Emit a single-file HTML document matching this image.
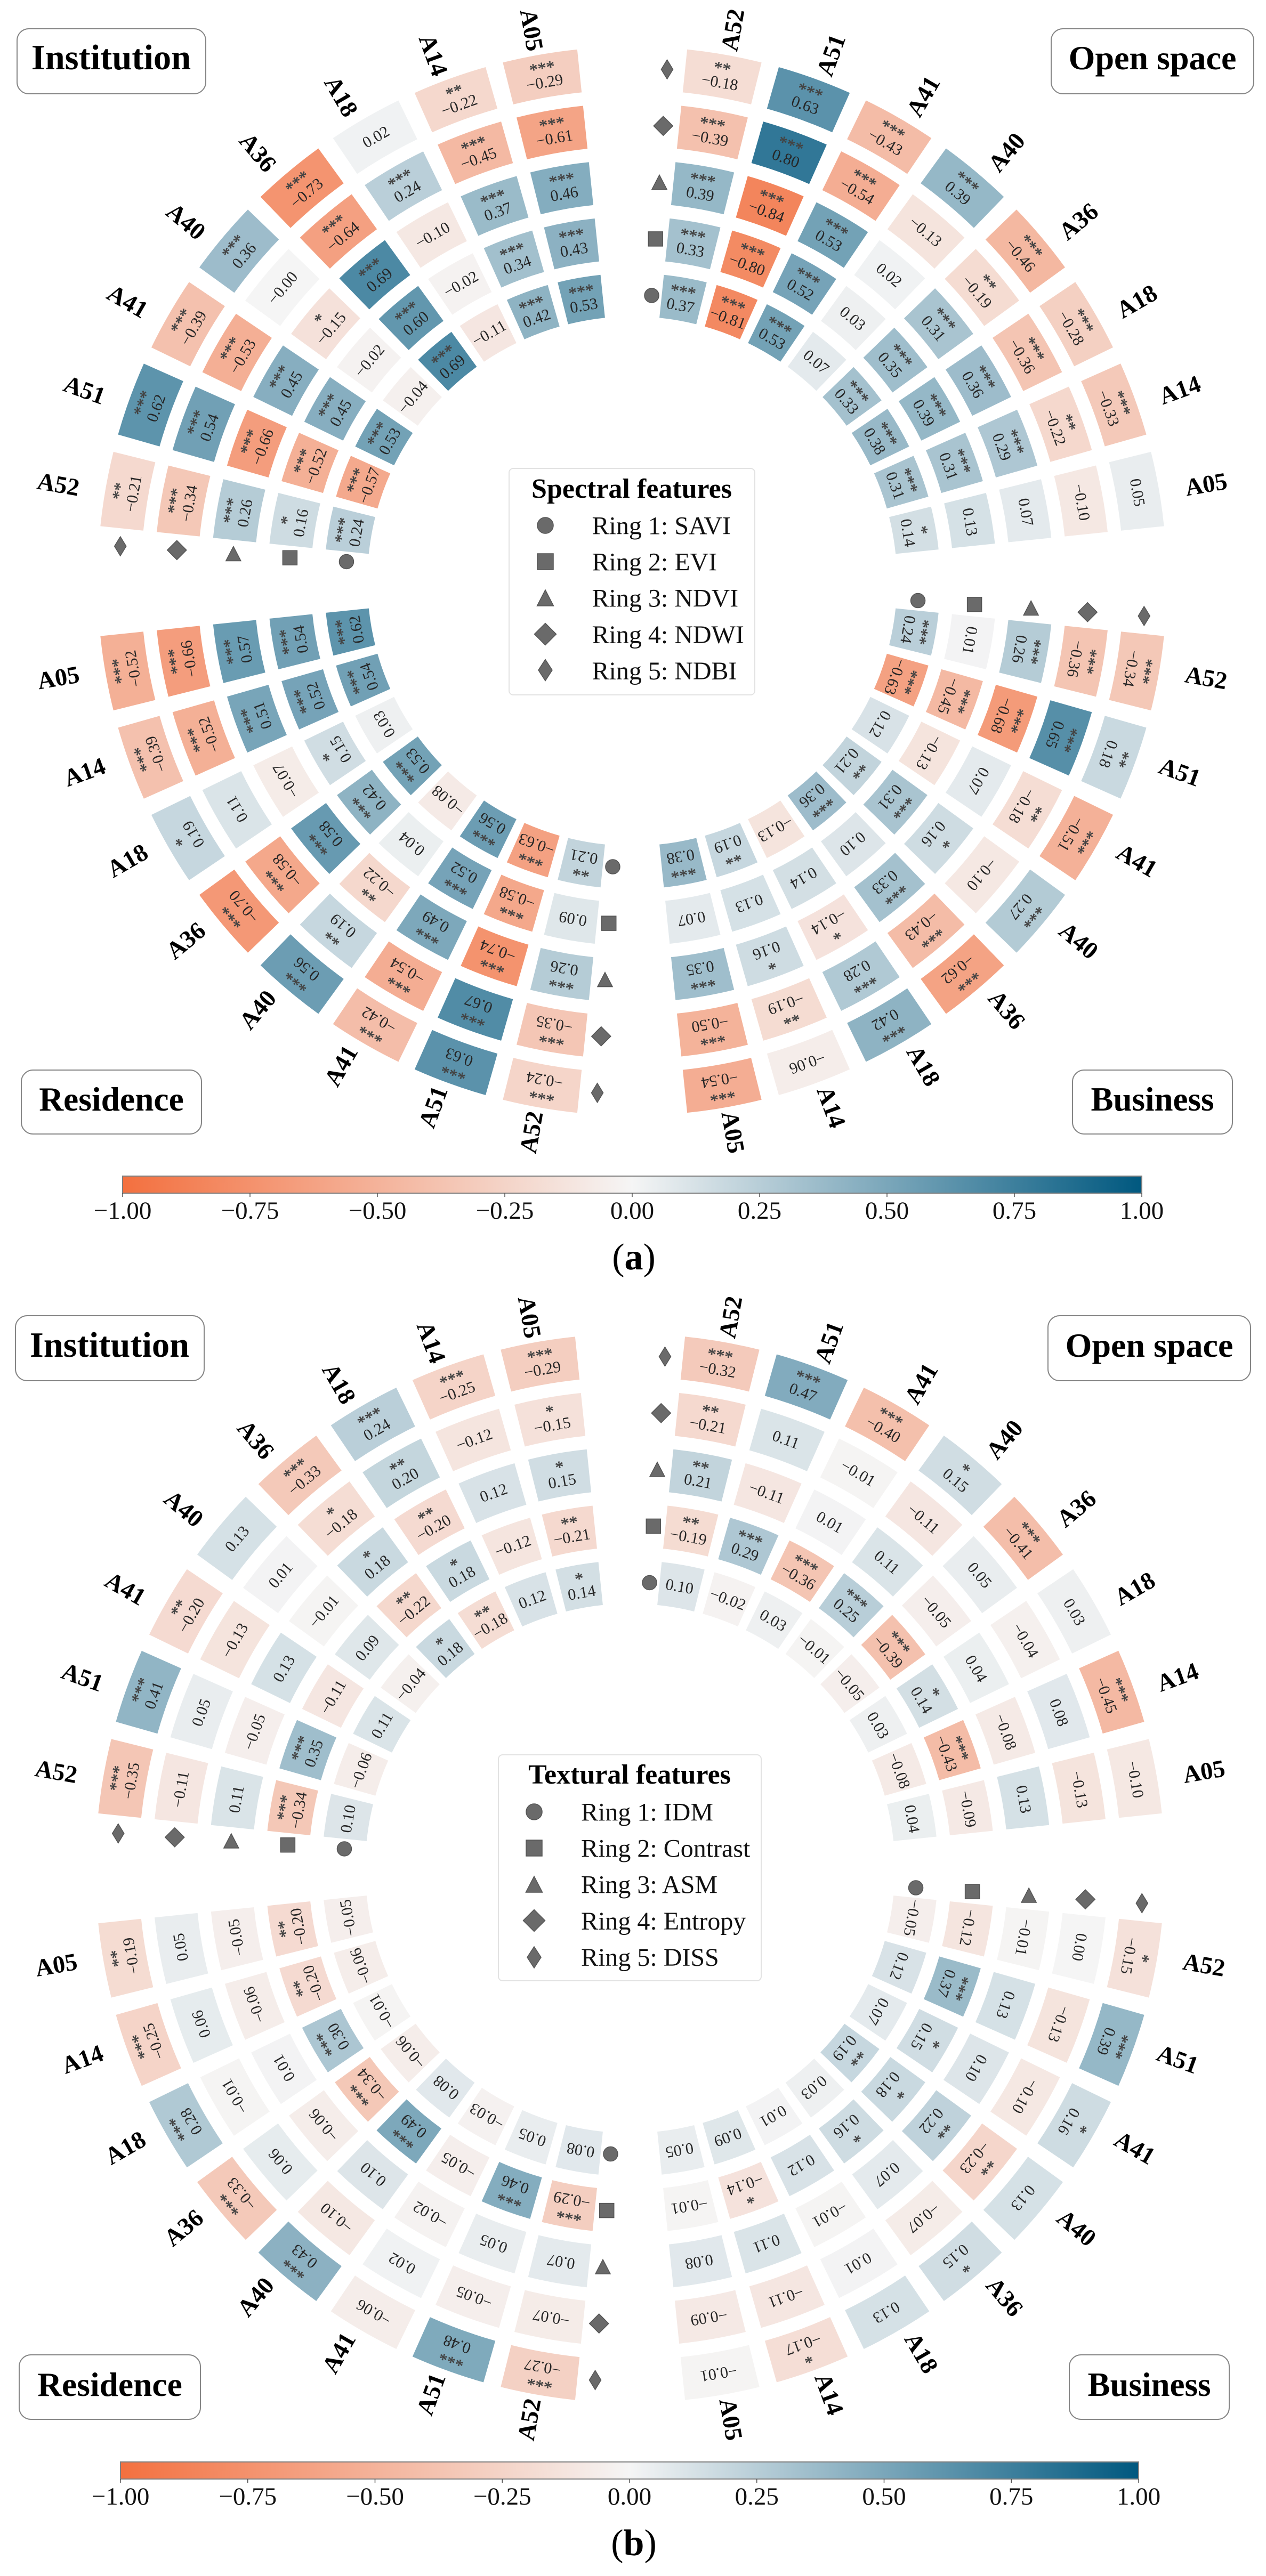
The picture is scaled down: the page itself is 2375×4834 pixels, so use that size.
<!DOCTYPE html>
<html lang="en">
<head>
<meta charset="utf-8">
<title>Correlation ring charts of spectral and textural features</title>
<style>
html,body{margin:0;padding:0;background:#fff;}
body{width:2375px;height:4834px;overflow:hidden;}
svg{display:block;font-family:"Liberation Serif",serif;}
.box{fill:#fff;stroke:#858585;stroke-width:2;}
.box-title{font-weight:bold;text-anchor:middle;fill:#000;}
.legend-box{fill:#fff;stroke:#e2e2e2;stroke-width:2;}
.legend-title{font-size:52px;font-weight:bold;text-anchor:middle;fill:#000;}
.legend-text{font-size:48px;fill:#111;}
.mk{fill:#6a6a6a;stroke:#555;stroke-width:1.5;}
.caption{font-size:70px;text-anchor:middle;fill:#000;}
</style>
</head>
<body>
<svg id="chart" xmlns="http://www.w3.org/2000/svg" width="2375" height="4834" viewBox="0 0 2375 4834">
  <defs>
    <linearGradient id="cbar-grad" x1="0" x2="1" y1="0" y2="0">
      <stop offset="0" stop-color="#f3703f"/>
      <stop offset="0.5" stop-color="#f5f5f5"/>
      <stop offset="1" stop-color="#00587f"/>
    </linearGradient>
  </defs>
  <rect width="2375" height="4834" fill="#fff"/>

  <g id="panel-a"></g>
  <g id="panel-b"></g>

  <g><rect class="box" x="32" y="54" width="354" height="122" rx="22"/><text class="box-title" font-size="66.5" x="208.5" y="130">Institution</text></g>
  <g><rect class="box" x="1972" y="54" width="380" height="122" rx="22"/><text class="box-title" font-size="64" x="2162" y="130">Open space</text></g>
  <g><rect class="box" x="40" y="2008" width="338" height="120" rx="22"/><text class="box-title" font-size="63.5" x="209" y="2084">Residence</text></g>
  <g><rect class="box" x="2012" y="2008" width="300" height="120" rx="22"/><text class="box-title" font-size="63" x="2162" y="2084">Business</text></g>

  <g><rect class="box" x="29" y="2469" width="354" height="122" rx="22"/><text class="box-title" font-size="66.5" x="205.5" y="2546">Institution</text></g>
  <g><rect class="box" x="1966" y="2469" width="380" height="122" rx="22"/><text class="box-title" font-size="64" x="2156" y="2546">Open space</text></g>
  <g><rect class="box" x="36" y="4419" width="340" height="121" rx="22"/><text class="box-title" font-size="63.5" x="206" y="4496">Residence</text></g>
  <g><rect class="box" x="2006" y="4419" width="300" height="121" rx="22"/><text class="box-title" font-size="63" x="2156" y="4496">Business</text></g>

  <g>
    <rect class="legend-box" x="955" y="879" width="461" height="425" rx="8"/>
    <text class="legend-title" x="1185" y="934">Spectral features</text>
    <circle class="mk" cx="1023" cy="986" r="15"/>
    <rect class="mk" x="1008" y="1039" width="30" height="30"/>
    <polygon class="mk" points="1023,1107 1038.5,1137 1007.5,1137"/>
    <polygon class="mk" points="1023,1169.5 1043.5,1190 1023,1210.5 1002.5,1190"/>
    <polygon class="mk" points="1023,1237.5 1036,1257.5 1023,1277.5 1010,1257.5"/>
    <text class="legend-text" x="1110.5" y="1002.5">Ring 1: SAVI</text>
    <text class="legend-text" x="1110.5" y="1070.5">Ring 2: EVI</text>
    <text class="legend-text" x="1110.5" y="1138.5">Ring 3: NDVI</text>
    <text class="legend-text" x="1110.5" y="1207">Ring 4: NDWI</text>
    <text class="legend-text" x="1110.5" y="1275">Ring 5: NDBI</text>
  </g>

  <g>
    <rect class="legend-box" x="935" y="3293" width="493" height="424" rx="8"/>
    <text class="legend-title" x="1181" y="3347">Textural features</text>
    <circle class="mk" cx="1002" cy="3400" r="15"/>
    <rect class="mk" x="987" y="3453" width="30" height="30"/>
    <polygon class="mk" points="1002,3521 1017.5,3551 986.5,3551"/>
    <polygon class="mk" points="1002,3583.5 1022.5,3604 1002,3624.5 981.5,3604"/>
    <polygon class="mk" points="1002,3653 1015,3673 1002,3693 989,3673"/>
    <text class="legend-text" x="1090" y="3416.5">Ring 1: IDM</text>
    <text class="legend-text" x="1090" y="3484.5">Ring 2: Contrast</text>
    <text class="legend-text" x="1090" y="3552.5">Ring 3: ASM</text>
    <text class="legend-text" x="1090" y="3621">Ring 4: Entropy</text>
    <text class="legend-text" x="1090" y="3689">Ring 5: DISS</text>
  </g>

  <text class="caption" x="1189" y="2382">(<tspan font-weight="bold">a</tspan>)</text>
  <text class="caption" x="1189" y="4795">(<tspan font-weight="bold">b</tspan>)</text>
</svg>

<script>
// Categories and tick labels
const sectorNames = ['A52', 'A51', 'A41', 'A40', 'A36', 'A18', 'A14', 'A05'];
const colorbarTicks = [-1, -0.75, -0.5, -0.25, 0, 0.25, 0.5, 0.75, 1];
const ringShapes = ['circle', 'square', 'triangle', 'diamond', 'thin-diamond'];

// Values: one row per sector (A52..A05), one column per ring (1..5)
const spectralOpenSpace = [
  [0.37, 0.33, 0.39, -0.39, -0.18],
  [-0.81, -0.80, -0.84, 0.80, 0.63],
  [0.53, 0.52, 0.53, -0.54, -0.43],
  [0.07, 0.03, 0.02, -0.13, 0.39],
  [0.33, 0.35, 0.31, -0.19, -0.46],
  [0.38, 0.39, 0.36, -0.36, -0.28],
  [0.31, 0.31, 0.29, -0.22, -0.33],
  [0.14, 0.13, 0.07, -0.10, 0.05]
];
const spectralOpenSpaceStars = [
  [3, 3, 3, 3, 2], [3, 3, 3, 3, 3], [3, 3, 3, 3, 3], [0, 0, 0, 0, 3],
  [3, 3, 3, 2, 3], [3, 3, 3, 3, 3], [3, 3, 3, 2, 3], [1, 0, 0, 0, 0]
];
const spectralBusiness = [
  [0.24, 0.01, 0.26, -0.36, -0.34],
  [-0.63, -0.45, -0.68, 0.65, 0.18],
  [0.12, -0.13, 0.07, -0.18, -0.51],
  [0.21, 0.31, 0.16, -0.10, 0.27],
  [0.36, 0.10, 0.33, -0.43, -0.62],
  [-0.13, 0.14, -0.14, 0.28, 0.42],
  [0.19, 0.13, 0.16, -0.19, -0.06],
  [0.38, 0.07, 0.35, -0.50, -0.54]
];
const spectralBusinessStars = [
  [3, 0, 3, 3, 3], [3, 3, 3, 3, 2], [0, 0, 0, 2, 3], [2, 3, 1, 0, 3],
  [3, 0, 3, 3, 3], [0, 0, 1, 3, 3], [2, 0, 1, 2, 0], [3, 0, 3, 3, 3]
];
const spectralResidence = [
  [0.21, 0.09, 0.26, -0.35, -0.24],
  [-0.63, -0.58, -0.74, 0.67, 0.63],
  [0.56, 0.52, 0.49, -0.54, -0.42],
  [-0.08, 0.04, -0.22, 0.19, 0.56],
  [0.53, 0.42, 0.58, -0.58, -0.70],
  [0.03, 0.15, -0.07, 0.11, 0.19],
  [0.54, 0.52, 0.51, -0.52, -0.39],
  [0.62, 0.54, 0.57, -0.66, -0.52]
];
const spectralResidenceStars = [
  [2, 0, 3, 3, 3], [3, 3, 3, 3, 3], [3, 3, 3, 3, 3], [0, 0, 2, 2, 3],
  [3, 3, 3, 3, 3], [0, 1, 0, 0, 1], [3, 3, 3, 3, 3], [3, 3, 3, 3, 3]
];
const spectralInstitution = [
  [0.24, 0.16, 0.26, -0.34, -0.21],
  [-0.57, -0.52, -0.66, 0.54, 0.62],
  [0.53, 0.45, 0.45, -0.53, -0.39],
  [-0.04, -0.02, -0.15, -0.00, 0.36],
  [0.69, 0.60, 0.69, -0.64, -0.73],
  [-0.11, -0.02, -0.10, 0.24, 0.02],
  [0.42, 0.34, 0.37, -0.45, -0.22],
  [0.53, 0.43, 0.46, -0.61, -0.29]
];
const spectralInstitutionStars = [
  [3, 1, 3, 3, 2], [3, 3, 3, 3, 3], [3, 3, 3, 3, 3], [0, 0, 1, 0, 3],
  [3, 3, 3, 3, 3], [0, 0, 0, 3, 0], [3, 3, 3, 3, 2], [3, 3, 3, 3, 3]
];
const texturalOpenSpace = [
  [0.10, -0.19, 0.21, -0.21, -0.32],
  [-0.02, 0.29, -0.11, 0.11, 0.47],
  [0.03, -0.36, 0.01, -0.01, -0.40],
  [-0.01, 0.25, 0.11, -0.11, 0.15],
  [-0.05, -0.39, -0.05, 0.05, -0.41],
  [0.03, 0.14, 0.04, -0.04, 0.03],
  [-0.08, -0.43, -0.08, 0.08, -0.45],
  [0.04, -0.09, 0.13, -0.13, -0.10]
];
const texturalOpenSpaceStars = [
  [0, 2, 2, 2, 3], [0, 3, 0, 0, 3], [0, 3, 0, 0, 3], [0, 3, 0, 0, 1],
  [0, 3, 0, 0, 3], [0, 1, 0, 0, 0], [0, 3, 0, 0, 3], [0, 0, 0, 0, 0]
];
const texturalBusiness = [
  [-0.05, -0.12, -0.01, 0.00, -0.15],
  [0.12, 0.37, 0.13, -0.13, 0.39],
  [0.07, 0.15, 0.10, -0.10, 0.16],
  [0.19, 0.18, 0.22, -0.23, 0.13],
  [0.03, 0.16, 0.07, -0.07, 0.15],
  [0.01, 0.12, -0.01, 0.01, 0.13],
  [0.09, -0.14, 0.11, -0.11, -0.17],
  [0.05, -0.01, 0.08, -0.09, -0.01]
];
const texturalBusinessStars = [
  [0, 0, 0, 0, 1], [0, 3, 0, 0, 3], [0, 1, 0, 0, 1], [2, 1, 2, 2, 0],
  [0, 1, 0, 0, 1], [0, 0, 0, 0, 0], [0, 1, 0, 0, 1], [0, 0, 0, 0, 0]
];
const texturalResidence = [
  [0.08, -0.29, 0.07, -0.07, -0.27],
  [0.05, 0.46, 0.05, -0.05, 0.48],
  [-0.03, -0.05, -0.02, 0.02, -0.06],
  [0.08, 0.49, 0.10, -0.10, 0.43],
  [-0.06, -0.34, -0.06, 0.06, -0.33],
  [-0.01, 0.30, 0.01, -0.01, 0.28],
  [-0.06, -0.20, -0.06, 0.06, -0.25],
  [-0.05, -0.20, -0.05, 0.05, -0.19]
];
const texturalResidenceStars = [
  [0, 3, 0, 0, 3], [0, 3, 0, 0, 3], [0, 0, 0, 0, 0], [0, 3, 0, 0, 3],
  [0, 3, 0, 0, 3], [0, 3, 0, 0, 3], [0, 2, 0, 0, 3], [0, 2, 0, 0, 2]
];
const texturalInstitution = [
  [0.10, -0.34, 0.11, -0.11, -0.35],
  [-0.06, 0.35, -0.05, 0.05, 0.41],
  [0.11, -0.11, 0.13, -0.13, -0.20],
  [-0.04, 0.09, -0.01, 0.01, 0.13],
  [0.18, -0.22, 0.18, -0.18, -0.33],
  [-0.18, 0.18, -0.20, 0.20, 0.24],
  [0.12, -0.12, 0.12, -0.12, -0.25],
  [0.14, -0.21, 0.15, -0.15, -0.29]
];
const texturalInstitutionStars = [
  [0, 3, 0, 0, 3], [0, 3, 0, 0, 3], [0, 0, 0, 0, 2], [0, 0, 0, 0, 0],
  [1, 2, 1, 1, 3], [2, 1, 2, 2, 3], [0, 0, 0, 0, 3], [1, 2, 1, 1, 3]
];

const NS = 'http://www.w3.org/2000/svg';

function make(tag, attrs, parent) {
  const el = document.createElementNS(NS, tag);
  for (const k in attrs) el.setAttribute(k, attrs[k]);
  parent.appendChild(el);
  return el;
}
function mix(a, b, t) {
  return Math.round(a + (b - a) * t);
}
function colorScale(v) {
  const t = Math.min(1, Math.abs(v));
  const end = v < 0 ? [243, 112, 63] : [0, 88, 127];
  return 'rgb(' + mix(245, end[0], t) + ',' + mix(245, end[1], t) + ',' + mix(245, end[2], t) + ')';
}
function formatValue(v) {
  const negative = v < 0 || Object.is(v, -0);
  return (negative ? '\u2212' : '') + Math.abs(v).toFixed(2);
}

const OUTER_RADIUS = 1003;
const RING_PITCH = 106.3;
const RING_THICK = 81;
const SECTOR_START = 9.95;
const SECTOR_PITCH = 10.014;
const SECTOR_WIDTH = 8.1;
const MARKER_ANGLE = 3.9;

function ringOuter(ringIndex) {
  return OUTER_RADIUS - (4 - ringIndex) * RING_PITCH;
}
function sectorAngle(q, i) {
  return q * 90 + SECTOR_START + i * SECTOR_PITCH;
}
function polar(cx, cy, r, deg) {
  const a = deg * Math.PI / 180;
  return [cx + r * Math.sin(a), cy - r * Math.cos(a)];
}
function cellPath(cx, cy, rIn, rOut, deg) {
  const a0 = deg - SECTOR_WIDTH / 2;
  const a1 = deg + SECTOR_WIDTH / 2;
  const p1 = polar(cx, cy, rIn, a0);
  const p2 = polar(cx, cy, rOut, a0);
  const p3 = polar(cx, cy, rOut, a1);
  const p4 = polar(cx, cy, rIn, a1);
  return 'M' + p1[0].toFixed(2) + ' ' + p1[1].toFixed(2) +
    'L' + p2[0].toFixed(2) + ' ' + p2[1].toFixed(2) +
    'A' + rOut + ' ' + rOut + ' 0 0 1 ' + p3[0].toFixed(2) + ' ' + p3[1].toFixed(2) +
    'L' + p4[0].toFixed(2) + ' ' + p4[1].toFixed(2) +
    'A' + rIn + ' ' + rIn + ' 0 0 0 ' + p1[0].toFixed(2) + ' ' + p1[1].toFixed(2) + 'Z';
}
function drawMarker(parent, shape, x, y) {
  let el;
  if (shape === 'circle') {
    el = make('circle', { cx: x, cy: y, r: 13.5, class: 'mk' }, parent);
  } else if (shape === 'square') {
    el = make('rect', { x: x - 13.5, y: y - 13.5, width: 27, height: 27, class: 'mk' }, parent);
  } else if (shape === 'triangle') {
    el = make('polygon', { points: x + ',' + (y - 14) + ' ' + (x + 14) + ',' + (y + 13) + ' ' + (x - 14) + ',' + (y + 13), class: 'mk' }, parent);
  } else if (shape === 'diamond') {
    el = make('polygon', { points: x + ',' + (y - 18) + ' ' + (x + 18) + ',' + y + ' ' + x + ',' + (y + 18) + ' ' + (x - 18) + ',' + y, class: 'mk' }, parent);
  } else {
    el = make('polygon', { points: x + ',' + (y - 18) + ' ' + (x + 11) + ',' + y + ' ' + x + ',' + (y + 18) + ' ' + (x - 11) + ',' + y, class: 'mk' }, parent);
  }
  
  
}
function drawQuadrant(parent, cx, cy, q, label, values, stars) {
  const group = make('g', {}, parent);
  
  
  values.forEach(function (row, i) {
    const deg = sectorAngle(q, i);
    row.forEach(function (v, ringIdx) {
      const rOut = ringOuter(ringIdx);
      const rIn = rOut - RING_THICK;
      const path = make('path', { d: cellPath(cx, cy, rIn, rOut, deg), fill: colorScale(v) }, group);
      
      
      const c = polar(cx, cy, (rIn + rOut) / 2, deg);
      const count = stars[i][ringIdx];
      const tg = make('g', { transform: 'translate(' + c[0].toFixed(2) + ' ' + c[1].toFixed(2) + ') rotate(' + deg.toFixed(2) + ')' }, group);
      const valueText = make('text', { x: 0, y: count ? 22 : 10, 'text-anchor': 'middle', 'font-size': 30, fill: '#262626' }, tg);
      valueText.textContent = formatValue(v);
      
      
      if (count) {
        const starText = make('text', { x: 0, y: -4, 'text-anchor': 'middle', 'font-size': 32, fill: '#444', stroke: '#444', 'stroke-width': 0.6 }, tg);
        starText.textContent = '*'.repeat(count);
        
        
      }
    });
    const lp = [cx + 1093 * Math.sin(deg * Math.PI / 180), cy - 1050 * Math.cos(deg * Math.PI / 180)];
    const rot = (q === 0 || q === 1) ? deg - 90 : deg - 270;
    const nameText = make('text', {
      transform: 'translate(' + lp[0].toFixed(2) + ' ' + lp[1].toFixed(2) + ') rotate(' + rot.toFixed(2) + ')',
      x: 0, y: 15, 'text-anchor': 'middle', 'font-size': 46, 'font-weight': 'bold', fill: '#000'
    }, group);
    nameText.textContent = sectorNames[i];
    
    
  });
  ringShapes.forEach(function (shape, ringIdx) {
    const r = ringOuter(ringIdx) - RING_THICK / 2;
    const p = polar(cx, cy, r, q * 90 + MARKER_ANGLE);
    drawMarker(group, shape, p[0], p[1]);
  });
}
function drawColorbar(parent, x0, x1, y0, y1, labelY) {
  const group = make('g', {}, parent);
  
  
  const bar = make('rect', { x: x0, y: y0, width: x1 - x0, height: y1 - y0, fill: 'url(#cbar-grad)', stroke: '#808080', 'stroke-width': 2 }, group);
  
  
  const scale = function (v) { return x0 + (v + 1) / 2 * (x1 - x0); };
  colorbarTicks.forEach(function (t) {
    const x = scale(t);
    const tick = make('line', { x1: x, x2: x, y1: y1, y2: y1 + 7, stroke: '#555', 'stroke-width': 1.5 }, group);
    
    
    const txt = make('text', { x: x, y: labelY, 'text-anchor': 'middle', 'font-size': 47, fill: '#111' }, group);
    txt.textContent = (t < 0 ? '\u2212' : '') + Math.abs(t).toFixed(2);
    
    
  });
}

const panelA = document.getElementById('panel-a');
const panelB = document.getElementById('panel-b');

drawQuadrant(panelA, 1186, 1090.5, 0, 'open-space', spectralOpenSpace, spectralOpenSpaceStars);
drawQuadrant(panelA, 1186, 1090.5, 1, 'business', spectralBusiness, spectralBusinessStars);
drawQuadrant(panelA, 1186, 1090.5, 2, 'residence', spectralResidence, spectralResidenceStars);
drawQuadrant(panelA, 1186, 1090.5, 3, 'institution', spectralInstitution, spectralInstitutionStars);
drawColorbar(panelA, 230, 2142, 2207, 2239, 2287);

drawQuadrant(panelB, 1182, 3506, 0, 'open-space', texturalOpenSpace, texturalOpenSpaceStars);
drawQuadrant(panelB, 1182, 3506, 1, 'business', texturalBusiness, texturalBusinessStars);
drawQuadrant(panelB, 1182, 3506, 2, 'residence', texturalResidence, texturalResidenceStars);
drawQuadrant(panelB, 1182, 3506, 3, 'institution', texturalInstitution, texturalInstitutionStars);
drawColorbar(panelB, 226, 2136, 4620, 4652, 4700);
</script>
</body>
</html>
